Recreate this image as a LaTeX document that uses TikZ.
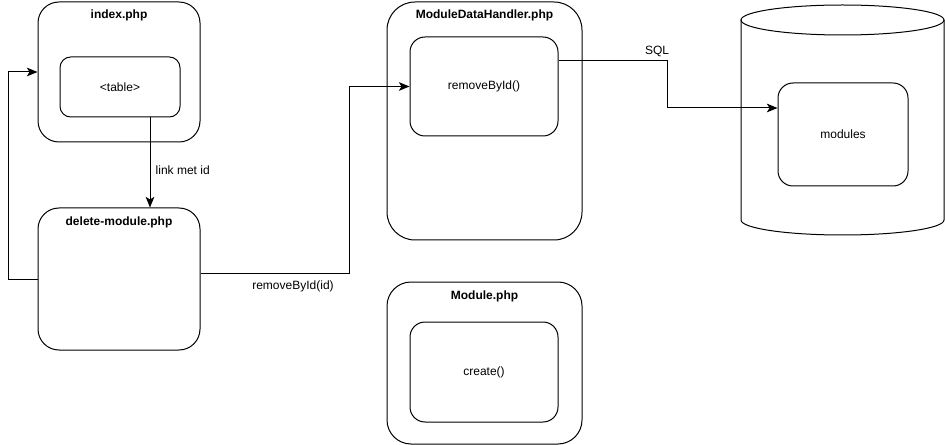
\documentclass[tikz,border=0pt]{standalone}
\usepackage{fontspec}
\setmainfont{Liberation Sans}
\usetikzlibrary{arrows.meta,calc}
\begin{document}
\begin{tikzpicture}[x=0.75pt,y=-0.75pt,
  font=\fontsize{9}{11}\selectfont,
  box/.style={draw, line width=0.75pt, rectangle, inner sep=0pt},
  title/.style={font=\fontsize{9}{11}\selectfont\bfseries},
  txt/.style={font=\fontsize{9}{11}\selectfont},
  flow/.style={draw, line width=0.75pt, -{Stealth[length=8pt,width=6.5pt,inset=2pt]}},
  line/.style={draw, line width=0.75pt},
  ]
  \useasboundingbox (0,0) rectangle (945,445);

  % outer file boxes
  \node[box, rounded corners=15.75pt, minimum width=121.5pt, minimum height=105pt] (idx) at (119,72) {};
  \node[title] (idxT) at (119,15) {index.php};
  \node[box, rounded corners=15.75pt, minimum width=121.5pt, minimum height=106.5pt] (del) at (119,279) {};
  \node[title] (delT) at (119,222) {delete-module.php};
  \node[box, rounded corners=21pt, minimum width=146.25pt, minimum height=178.5pt] (mdh) at (484.5,121) {};
  \node[title] (mdhT) at (484.5,15) {ModuleDataHandler.php};
  \node[box, rounded corners=18pt, minimum width=146.25pt, minimum height=121.5pt] (mod) at (484.5,363) {};
  \node[title] (modT) at (484.5,296) {Module.php};

  % database cylinder
  \draw[line] (842.5,20) ellipse[x radius=76.125pt, y radius=11.25pt];
  \draw[line] (741,20) -- (741,220) arc[start angle=180, end angle=360, x radius=76.125pt, y radius=11.25pt] -- (944,20);

  % inner boxes
  \node[box, rounded corners=8pt, minimum width=90pt, minimum height=45pt] (tbl) at (120,87) {\textless table\textgreater};
  \node[box, rounded corners=11.25pt, minimum width=111pt, minimum height=74.25pt] (rem) at (484,86.5) {removeById()};
  \node[box, rounded corners=11.25pt, minimum width=111pt, minimum height=75pt] (cre) at (484,372) {create()};
  \node[box, rounded corners=11.25pt, minimum width=97.5pt, minimum height=77.25pt] (mods) at (843,134.5) {modules};

  % connectors
  \draw[flow] ([xshift=22.5pt]tbl.south) -- ([xshift=22.5pt]tbl.south |- del.north);
  \node[txt, anchor=west] (lnkL) at (151,170) {link met id};

  \draw[flow] (del.west) -- ++(-29,0) |- (idx.west);

  \coordinate (callbend) at (349,273);
  \draw[flow] ([yshift=4.5pt]del.east) -- (callbend) |- (rem.west);
  \node[txt] (callL) at (293,286) {removeById(id)};

  \coordinate (sqlbend) at (667,108);
  \draw[flow] ([yshift=19.125pt]rem.east) -| (sqlbend) -- ([yshift=19.875pt]mods.west);
  \node[txt] (sqlL) at (657,51) {SQL};
\end{tikzpicture}
\end{document}
